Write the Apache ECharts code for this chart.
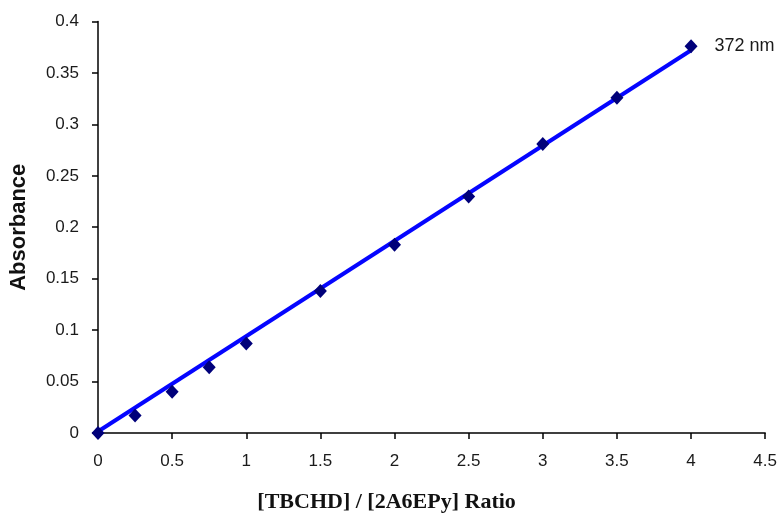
<!DOCTYPE html>
<html>
<head>
<meta charset="utf-8">
<script src="https://cdn.jsdelivr.net/npm/echarts@6/dist/echarts.min.js"></script>
<style>
  html, body { margin: 0; padding: 0; background: #fff; }
  #chart { width: 780px; height: 518px; }
</style>
</head>
<body>
<div id="chart"></div>
<script>
// Molar ratio of titrant to host
const ratios = [0, 0.25, 0.5, 0.75, 1, 1.5, 2, 2.5, 3, 3.5, 4];
// Absorbance measured at 372 nm
const absorbance = [0, 0.017, 0.040, 0.064, 0.087, 0.138, 0.183, 0.230, 0.281, 0.326, 0.376];
// Linear trend line endpoints
const trendX = [0, 4];
const trendY = [0.0015, 0.372];
const seriesLabel = '372 nm';

const chart = echarts.init(document.getElementById('chart'), null, { renderer: 'canvas' });

const sans = 'Liberation Sans, Arial, sans-serif';

chart.setOption({
  backgroundColor: '#ffffff',
  animation: false,
  grid: { left: 97.5, right: 14.3, top: 21.5, bottom: 81.3, containLabel: false },
  xAxis: {
    type: 'value',
    min: 0, max: 4.5, interval: 0.5,
    name: '[TBCHD] / [2A6EPy] Ratio',
    nameLocation: 'middle',
    nameGap: 58,
    nameTextStyle: {
      fontFamily: 'Liberation Serif, Times New Roman, serif',
      fontSize: 22, fontWeight: 'bold', color: '#111',
      padding: [0, 90, 0, 0]
    },
    axisLine: { show: true, onZero: false, lineStyle: { color: '#000', width: 1.5 } },
    axisTick: { show: true, inside: false, length: 6, lineStyle: { color: '#000', width: 1.5 } },
    axisLabel: { margin: 20, fontFamily: sans, fontSize: 17, color: '#1a1a1a' },
    splitLine: { show: false }
  },
  yAxis: {
    type: 'value',
    min: 0, max: 0.4, interval: 0.05,
    name: 'Absorbance',
    nameLocation: 'middle',
    nameGap: 68,
    nameTextStyle: { fontFamily: sans, fontSize: 22, fontWeight: 'bold', color: '#111' },
    axisLine: { show: true, onZero: false, lineStyle: { color: '#000', width: 1.5 } },
    axisTick: { show: true, inside: false, length: 6, lineStyle: { color: '#000', width: 1.5 } },
    axisLabel: { margin: 19, fontFamily: sans, fontSize: 17, color: '#1a1a1a' },
    splitLine: { show: false }
  },
  series: [
    {
      type: 'line',
      data: trendX.map((x, i) => [x, trendY[i]]),
      showSymbol: false,
      symbol: 'none',
      lineStyle: { color: '#0505ff', width: 4 },
      z: 2,
      silent: true
    },
    {
      type: 'scatter',
      data: ratios.map((x, i) => ({
        value: [x, absorbance[i]],
        label: i === ratios.length - 1 ? {
          show: true,
          position: 'right',
          distance: 17,
          formatter: seriesLabel,
          fontFamily: sans,
          fontSize: 18,
          color: '#1a1a1a'
        } : { show: false }
      })),
      symbol: 'diamond',
      symbolSize: [13, 14],
      itemStyle: { color: '#00007a', opacity: 1 },
      z: 3
    }
  ]
});
</script>
</body>
</html>
